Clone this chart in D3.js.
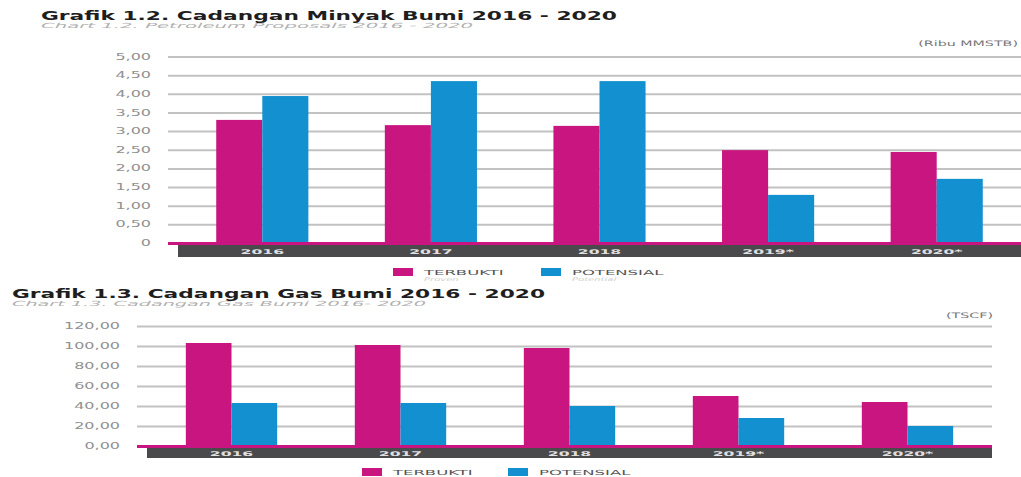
<!DOCTYPE html>
<html><head><meta charset="utf-8">
<script src="https://cdn.jsdelivr.net/npm/d3@7"></script>
<style>body{margin:0;background:#fff}svg{display:block}</style>
</head><body>
<svg id="c" width="1021" height="477"></svg>
<script>
const categories = ["2016","2017","2018","2019*","2020*"];
const seriesNames = ["TERBUKTI","POTENSIAL"];
const seriesSub = ["Proven","Potential"];
const oilProven = [3.30,3.16,3.14,2.49,2.44];
const oilPotential = [3.94,4.34,4.34,1.29,1.72];
const oilTicks = [0,0.5,1,1.5,2,2.5,3,3.5,4,4.5,5];
const oilTickLabels = ["0","0,50","1,00","1,50","2,00","2,50","3,00","3,50","4,00","4,50","5,00"];
const gasProven = [103,101,98,50,44];
const gasPotential = [43,43,40,28,20];
const gasTicks = [0,20,40,60,80,100,120];
const gasTickLabels = ["0,00","20,00","40,00","60,00","80,00","100,00","120,00"];

const colors = ["#c9157f","#1390cf"];
const svg = d3.select("#c");
const FONT = "DejaVu Sans, sans-serif";

function stretch(sel, factor){
  sel.each(function(){
    const w = this.getComputedTextLength();
    d3.select(this).attr("textLength", w*factor).attr("lengthAdjust","spacingAndGlyphs");
  });
}
function fitW(sel, w){ sel.attr("textLength", w).attr("lengthAdjust","spacingAndGlyphs"); }

function drawChart(cfg){
  const g = svg.append("g");
  g.append("text").attr("x",cfg.titleX).attr("y",cfg.titleY).text(cfg.title)
    .attr("font-family",FONT).attr("font-weight","bold").attr("font-size",11.5).attr("fill","#1e1e1e")
    .call(fitW, cfg.titleW);
  g.append("text").attr("x",cfg.titleX).attr("y",cfg.titleY+8).text(cfg.subtitle)
    .attr("font-family",FONT).attr("font-size",7).attr("fill","#b0b0b0").attr("font-style","italic")
    .call(fitW, cfg.subW);
  g.append("text").attr("x",cfg.unitX).attr("y",cfg.unitY).text(cfg.unit)
    .attr("font-family",FONT).attr("font-size",7.5).attr("fill","#777").attr("text-anchor","end")
    .call(stretch, 1.9);

  const y = d3.scaleLinear().domain([0, cfg.yMax]).range([cfg.base, cfg.top]);
  const x0 = d3.scaleBand().domain(categories).range([cfg.bandL, cfg.bandR]).padding(0);
  const x1 = d3.scaleBand().domain(seriesNames).range([0, x0.bandwidth()]).paddingInner(0).paddingOuter(cfg.pOuter);

  const axis = d3.axisLeft(y).tickValues(cfg.ticks)
    .tickFormat((d,i)=>cfg.tickLabels[i])
    .tickSizeInner(-(cfg.gridR-cfg.gridL)).tickSizeOuter(0).tickPadding(cfg.tickPad);
  const ag = g.append("g").attr("transform",`translate(${cfg.gridL},0)`).call(axis);
  ag.select(".domain").remove();
  ag.selectAll(".tick line").attr("stroke","#c2c2c2").attr("stroke-width",2);
  ag.selectAll(".tick text").attr("font-family",FONT).attr("font-size",8).attr("fill","#909090")
    .call(stretch, 2.0);

  const vals = [cfg.proven, cfg.potential];
  const grp = g.append("g").selectAll("g").data(categories).join("g")
    .attr("transform", d=>`translate(${x0(d)},0)`);
  grp.selectAll("rect").data((d,i)=>seriesNames.map((s,j)=>({s, v: vals[j][i], j})))
    .join("rect")
    .attr("x", d=>x1(d.s)).attr("width", x1.bandwidth())
    .attr("y", d=>y(d.v)).attr("height", d=>cfg.base - y(d.v))
    .attr("fill", d=>colors[d.j]);

  g.append("rect").attr("x",cfg.gridL).attr("y",cfg.base-1).attr("width",cfg.gridR-cfg.gridL).attr("height",3)
    .attr("fill","#c9157f");
  g.append("rect").attr("x",cfg.bandL).attr("y",cfg.base+2).attr("width",cfg.bandR-cfg.bandL)
    .attr("height",cfg.bandH).attr("fill","#4a4a4c");
  g.append("g").selectAll("text").data(categories).join("text")
    .attr("x", d=>x0(d)+x0.bandwidth()/2).attr("y", cfg.base+2+cfg.bandH/2+2.5)
    .attr("text-anchor","middle").text(d=>d)
    .attr("font-family",FONT).attr("font-weight","bold").attr("font-size",6.5).attr("fill","#e0e0e0")
    .call(stretch, 2.4);

  const lg = g.append("g");
  seriesNames.forEach((s,j)=>{
    const lx = cfg.legX[j];
    lg.append("rect").attr("x",lx).attr("y",cfg.legY-4).attr("width",20).attr("height",8).attr("fill",colors[j]);
    lg.append("text").attr("x",lx+31).attr("y",cfg.legY+2.5).text(s)
      .attr("font-family",FONT).attr("font-size",7).attr("fill","#555").call(stretch,2.35);
    if(cfg.legSub){
      lg.append("text").attr("x",lx+31).attr("y",cfg.legY+9).text(seriesSub[j])
        .attr("font-family",FONT).attr("font-size",5).attr("fill","#cfcfcf").attr("font-style","italic").call(stretch,2.0);
    }
  });
}

drawChart({
  title:"Grafik 1.2. Cadangan Minyak Bumi 2016 - 2020",
  subtitle:"Chart 1.2. Petroleum Proposals 2016 - 2020",
  unit:"(Ribu MMSTB)",
  titleX:41, titleY:20, titleW:576, subW:432,
  unitX:1018, unitY:46,
  yMax:5, top:56.5, base:243,
  ticks:oilTicks, tickLabels:oilTickLabels,
  gridL:168, gridR:1021, tickPad:17,
  bandL:178, bandR:1021, bandH:12, pOuter:0.83,
  proven:oilProven, potential:oilPotential,
  legX:[393,541], legY:272, legSub:true
});
drawChart({
  title:"Grafik 1.3. Cadangan Gas Bumi 2016 - 2020",
  subtitle:"Chart 1.3. Cadangan Gas Bumi 2016- 2020",
  unit:"(TSCF)",
  titleX:12, titleY:298, titleW:533, subW:414,
  unitX:993, unitY:318,
  yMax:120, top:326, base:446,
  ticks:gasTicks, tickLabels:gasTickLabels,
  gridL:137, gridR:992, tickPad:17,
  bandL:147, bandR:992, bandH:10, pOuter:0.85,
  proven:gasProven, potential:gasPotential,
  legX:[362,508], legY:472, legSub:false
});
</script>
</body></html>
